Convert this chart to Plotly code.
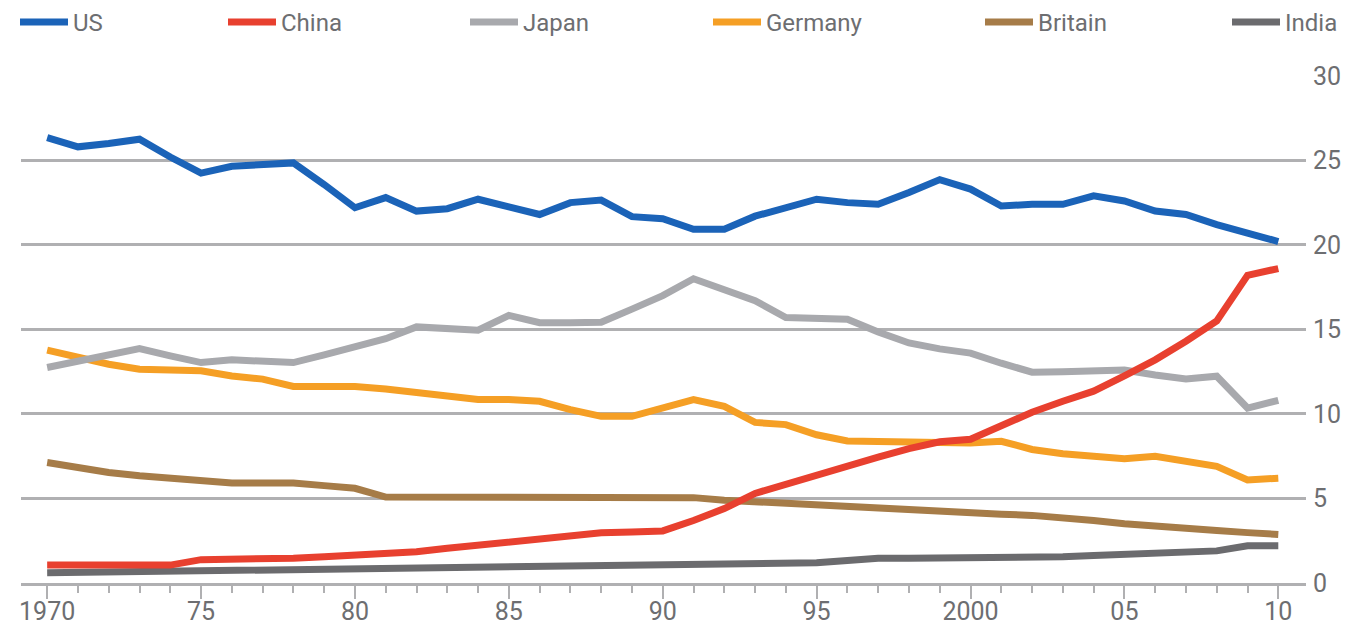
import plotly.graph_objects as go

years = list(range(1970, 2011))

us = [26.35, 25.8, 26.0, 26.25, 25.2, 24.25, 24.65, 24.75, 24.85, 23.57,
      22.2, 22.8, 22.0, 22.14, 22.7, 22.25, 21.8, 22.5, 22.65, 21.67,
      21.55, 20.92, 20.92, 21.7, 22.25, 22.7, 22.5, 22.4, 23.1, 23.86,
      23.3, 22.3, 22.4, 22.4, 22.9, 22.6, 22.0, 21.8, 21.2, 20.7, 20.2]
china = [1.06, 1.06, 1.06, 1.06, 1.06, 1.38, 1.38, 1.4, 1.47, 1.55,
         1.62, 1.72, 1.85, 2.05, 2.25, 2.45, 2.65, 2.82, 2.97, 3.02,
         3.08, 3.7, 4.4, 5.3, 5.85, 6.44, 6.95, 7.45, 7.95, 8.35,
         8.5, 9.35, 10.1, 10.75, 11.35, 12.25, 13.2, 14.3, 15.5, 18.2, 18.6]
japan = [12.75, 13.1, 13.5, 13.86, 13.43, 13.04, 13.2, 13.14, 13.04, 13.5,
         14.0, 14.45, 15.15, 15.05, 14.95, 15.83, 15.4, 15.4, 15.43, 16.2,
         17.0, 18.0, 17.37, 16.7, 15.7, 15.63, 15.6, 14.85, 14.2, 13.85,
         13.6, 13.0, 12.47, 12.5, 12.55, 12.6, 12.3, 12.07, 12.23, 10.35, 10.8]
germany = [13.78, 13.33, 12.94, 12.65, 12.65, 12.55, 12.25, 12.06, 11.63, 11.63,
           11.63, 11.47, 11.27, 11.08, 10.85, 10.85, 10.75, 10.26, 9.86, 9.86,
           10.36, 10.85, 10.45, 9.5, 9.37, 8.77, 8.4, 8.35, 8.3, 8.28,
           8.28, 8.38, 7.9, 7.65, 7.5, 7.35, 7.5, 7.2, 6.9, 6.1, 6.2]
britain = [7.13, 6.8, 6.54, 6.34, 6.18, 6.04, 5.92, 5.92, 5.92, 5.76,
           5.6, 5.08, 5.08, 5.08, 5.08, 5.08, 5.08, 5.08, 5.08, 5.08,
           5.08, 5.05, 4.9, 4.8, 4.7, 4.6, 4.5, 4.4, 4.3, 4.2,
           4.15, 4.07, 4.0, 3.9, 3.7, 3.5, 3.4, 3.25, 3.1, 2.98, 2.87]
india = [0.6, 0.62, 0.64, 0.66, 0.68, 0.7, 0.72, 0.74, 0.76, 0.79,
         0.82, 0.84, 0.86, 0.88, 0.9, 0.92, 0.94, 0.96, 0.98, 1.0,
         1.02, 1.05, 1.08, 1.11, 1.14, 1.2, 1.33, 1.46, 1.46, 1.46,
         1.46, 1.46, 1.46, 1.55, 1.63, 1.7, 1.8, 1.85, 1.9, 2.2, 2.2]

# (name, values, colour, legend id, legend swatch left edge in px)
series = [
    ("India", india, "#6b6b6e", "legend6", 1232),
    ("Britain", britain, "#a67c48", "legend5", 985),
    ("Germany", germany, "#f59f25", "legend4", 713),
    ("Japan", japan, "#a8a9ad", "legend3", 470),
    ("US", us, "#1b63b8", "legend", 20),
    ("China", china, "#e8402f", "legend2", 228),
]

tick_vals = [1970, 1975, 1980, 1985, 1990, 1995, 2000, 2005, 2010]
tick_text = ["1970", "75", "80", "85", "90", "95", "2000", "05", "10"]
y_ticks = [0, 5, 10, 15, 20, 25, 30]

FONT = "Roboto, Arial"
TXT = "#6d6e71"
GRID = "#b0b0b2"
W, H = 1351, 634

fig = go.Figure()
legends = {}
for name, vals, color, leg, px in series:
    fig.add_trace(go.Scatter(
        x=years, y=vals, name=name, mode="lines",
        line=dict(color=color, width=7),
        legend=leg,
    ))
    legends[leg] = dict(
        orientation="h", x=(px - 5) / W, y=1.0, xanchor="left", yanchor="top",
        xref="container", yref="container",
        itemwidth=48, font=dict(size=24, color=TXT, family=FONT),
        bgcolor="rgba(0,0,0,0)",
    )

fig.update_layout(
    width=W, height=H,
    paper_bgcolor="white", plot_bgcolor="white",
    margin=dict(l=21, r=45, t=75, b=51, autoexpand=False),
    font=dict(family=FONT, color=TXT, size=24),
    showlegend=True,
    xaxis=dict(
        range=[1969.15, 2010.9], automargin=False,
        tickmode="array", tickvals=tick_vals, ticktext=tick_text,
        ticks="outside", ticklen=13, tickwidth=2, tickcolor=GRID,
        showline=True, linecolor=GRID, linewidth=3,
        showgrid=False, zeroline=False, ticklabelstandoff=-9,
        minor=dict(dtick=1, tick0=1970, ticks="outside", ticklen=7,
                   tickwidth=2, tickcolor=GRID, showgrid=False),
        tickfont=dict(size=25, color=TXT, family=FONT),
    ),
    yaxis=dict(
        range=[0, 30.05], side="right", automargin=False,
        tickmode="array", tickvals=y_ticks,
        showgrid=True, gridcolor=GRID, gridwidth=2.5,
        zeroline=False, ticks="", showline=False, ticklabelstandoff=6,
        tickfont=dict(size=25, color=TXT, family=FONT),
    ),
    **legends,
)

fig.write_html("out.html", config={"displayModeBar": False},
               post_script="document.body.style.margin='0px';")
